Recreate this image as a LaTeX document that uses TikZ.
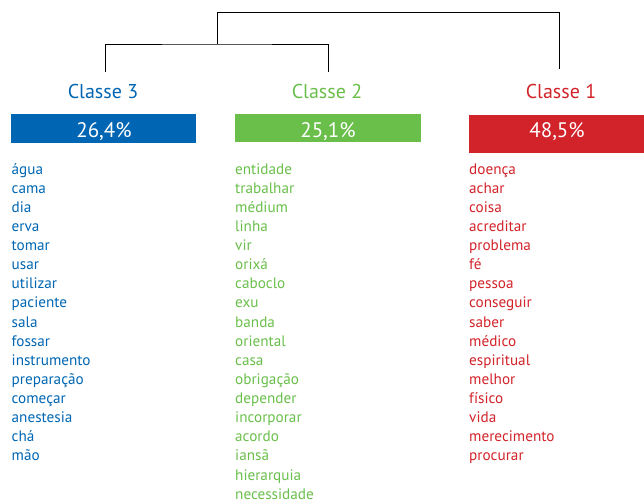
\documentclass[tikz,border=0pt]{standalone}
\usepackage{fontspec}
\setmainfont{PT Sans}
\definecolor{cblue}{HTML}{0066B3}
\definecolor{cgreen}{HTML}{6ABF4B}
\definecolor{cred}{HTML}{D2232A}
\begin{document}
\begin{tikzpicture}[x=1pt,y=-1pt,
  dend/.style={draw=black,line width=0.9pt},
  header/.style={anchor=base,font=\fontsize{20}{24}\selectfont,inner sep=0pt},
  pct/.style={anchor=base,text=white,font=\fontsize{21}{24}\selectfont,inner sep=0pt},
  word/.style={anchor=base west,inner sep=0pt,font=\fontsize{15.2}{17}\selectfont}]
\useasboundingbox (0,0) rectangle (644,503);
% headers
\node[header,text=cblue] (h3) at (103,98) {Classe 3};
\node[header,text=cgreen] (h2) at (327,98) {Classe 2};
\node[header,text=cred] (h1) at (561,98) {Classe 1};
% boxes
\fill[cblue] (11,114) rectangle (196,143);
\fill[cgreen] (235,114) rectangle (421,142);
\fill[cred] (469,115) rectangle (644,153);
\node[pct] (p3) at (104,137) {26,4\%};
\node[pct] (p2) at (328,137) {25,1\%};
\node[pct] (p1) at (557,137) {48,5\%};
% dendrogram
\coordinate (c3top) at (105,72);
\coordinate (c2top) at (328,72);
\coordinate (c1top) at (559,69);
\coordinate (j32) at (217,44);
\coordinate (root) at (217,12);
\draw[dend] (c3top) |- (j32) -| (c2top);
\draw[dend] (j32) -- (root) -| (c1top);
% word lists
\foreach \w [count=\i] in {água,cama,dia,erva,tomar,usar,utilizar,paciente,sala,fossar,instrumento,preparação,começar,anestesia,chá,mão}
  \node[word,text=cblue] (b\i) at (11.5,{174+(\i-1)*19.13}) {\w};
\foreach \w [count=\i] in {entidade,trabalhar,médium,linha,vir,orixá,caboclo,exu,banda,oriental,casa,obrigação,depender,incorporar,acordo,iansã,hierarquia,necessidade}
  \node[word,text=cgreen] (g\i) at (235,{174+(\i-1)*19.13}) {\w};
\foreach \w [count=\i] in {doença,achar,coisa,acreditar,problema,fé,pessoa,conseguir,saber,médico,espiritual,melhor,físico,vida,merecimento,procurar}
  \node[word,text=cred] (r\i) at (469,{174+(\i-1)*19.13}) {\w};
\end{tikzpicture}
\end{document}
